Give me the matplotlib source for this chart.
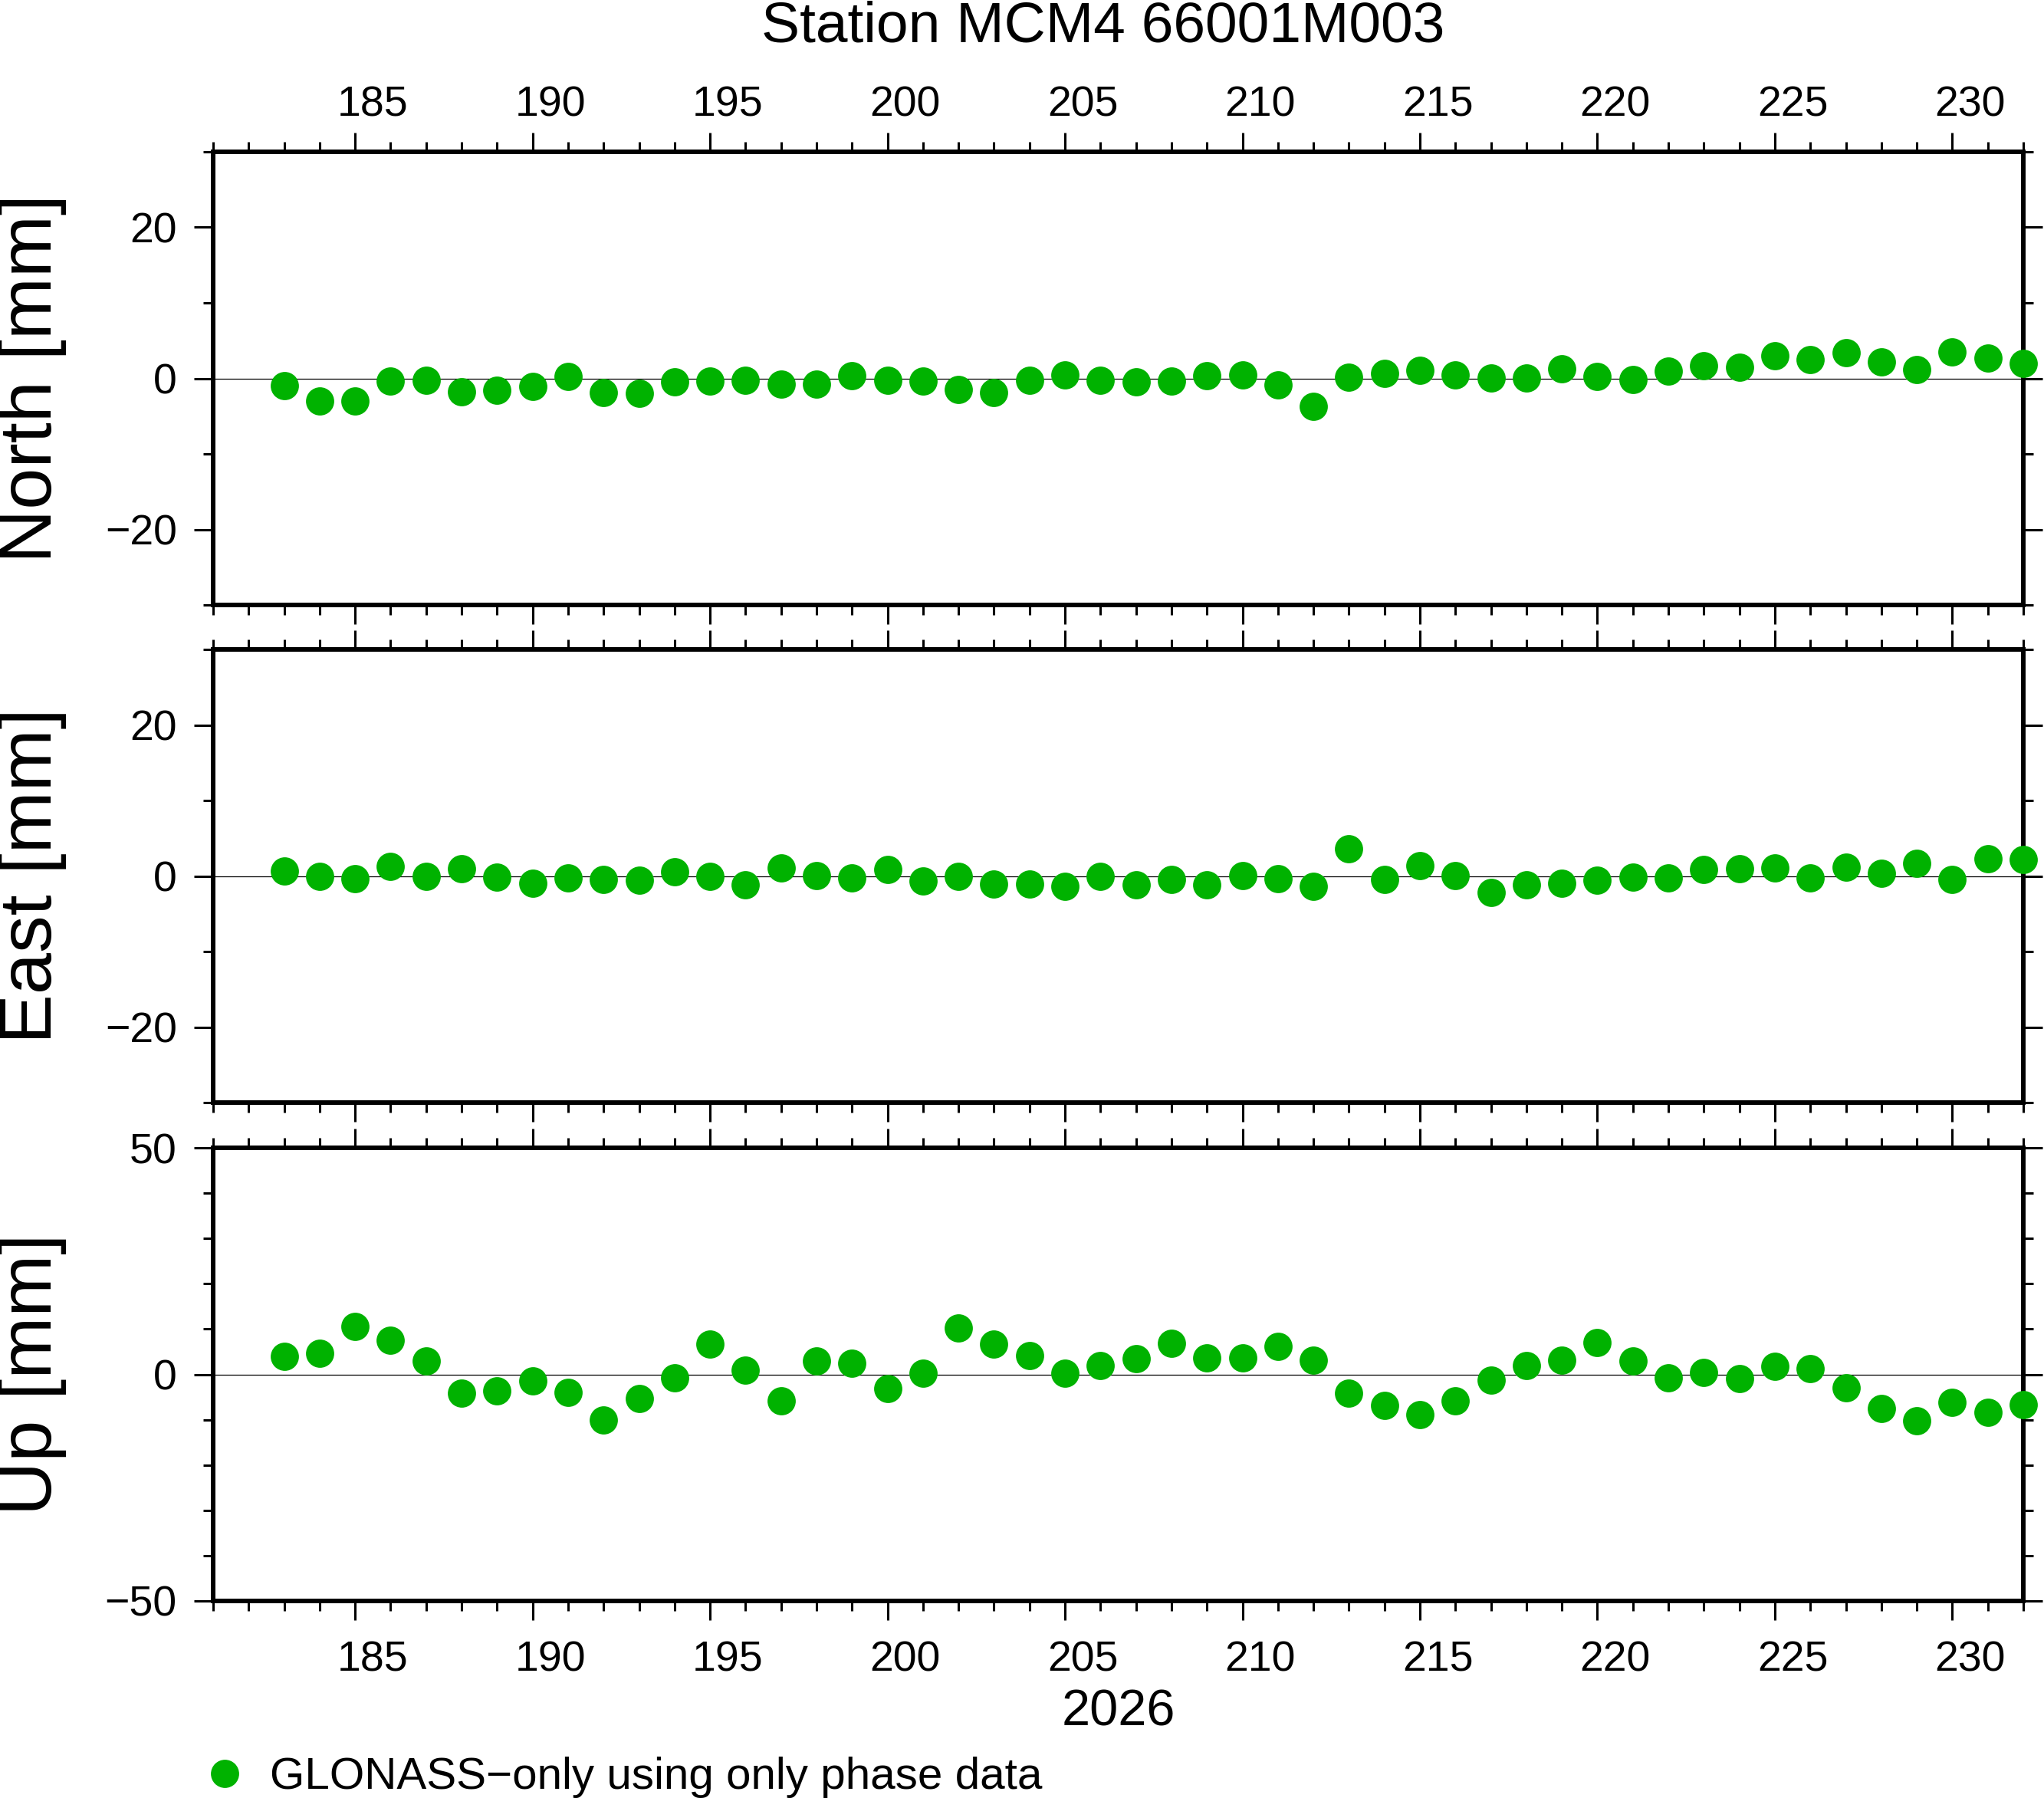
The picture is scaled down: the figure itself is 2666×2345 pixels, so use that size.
import matplotlib
matplotlib.use('Agg')
import matplotlib.pyplot as plt
from matplotlib.ticker import MultipleLocator
from matplotlib.lines import Line2D
from matplotlib.transforms import ScaledTranslation

plt.rcParams['font.family'] = ['Liberation Sans', 'DejaVu Sans']

# day of year 2026
days = list(range(183, 233))

north = [-1.0, -2.95, -2.95, -0.4, -0.3, -1.8, -1.6, -1.1, 0.3, -1.9,
         -2.0, -0.5, -0.4, -0.3, -0.8, -0.8, 0.4, -0.3, -0.4, -1.5,
         -1.9, -0.3, 0.5, -0.3, -0.5, -0.4,
         0.4, 0.5, -0.9, -3.75, 0.2, 0.7, 1.05, 0.5, 0.1, 0.1,
         1.3, 0.3, -0.2, 1.0, 1.7, 1.5, 3.0, 2.5, 3.4, 2.2, 1.2, 3.5, 2.7, 2.0]

east = [0.7, -0.1, -0.4, 1.3, 0.0, 1.0, -0.2, -1.0, -0.3, -0.5,
        -0.6, 0.6, -0.1, -1.2, 1.1, 0.1, -0.3, 0.9, -0.7, 0.0,
        -1.1, -1.1, -1.4, 0.0, -1.2, -0.5,
        -1.2, 0.1, -0.4, -1.4, 3.6, -0.5, 1.4, 0.1, -2.2, -1.2,
        -1.0, -0.6, -0.2, -0.3, 0.9, 1.0, 1.1, -0.3, 1.2, 0.4, 1.7, -0.5, 2.3, 2.2]

up = [3.9, 4.6, 10.5, 7.6, 2.9, -4.2, -3.7, -1.4, -3.9, -10.0,
      -5.3, -0.7, 6.6, 0.85, -5.8, 2.9, 2.5, -3.2, 0.2, 10.2,
      6.6, 4.2, 0.3, 2.0, 3.4, 6.8,
      3.7, 3.7, 6.1, 3.05, -4.2, -6.9, -8.8, -5.9, -1.2, 2.0,
      3.2, 7.1, 2.9, -0.7, 0.5, -0.85, 1.7, 1.2, -2.9, -7.6, -10.2, -6.1, -8.3, -6.6]

labels = ['North [mm]', 'East [mm]', 'Up [mm]']
series = [north, east, up]
limits = [30, 30, 50]
majors = [20, 20, 50]
green = '#00b200'
legend_text = 'GLONASS\u2212only using only phase data'

W, H = 2666, 2345
fig = plt.figure(figsize=(W / 100, H / 100), dpi=100)

left = 278 / W
width = (2639 - 278) / W
tops = [198, 847, 1497]
ph = 591

axes = []
for i in range(3):
    ax = fig.add_axes([left, 1 - (tops[i] + ph) / H, width, ph / H])
    ax.axhline(0, color='black', lw=0.9, zorder=1)
    ax.plot(days, series[i], 'o', color=green, ms=26.5, mec='none',
            clip_on=False, zorder=3)
    ax.set_xlim(181, 232)
    ax.set_ylim(-limits[i], limits[i])
    ax.xaxis.set_major_locator(MultipleLocator(5))
    ax.xaxis.set_minor_locator(MultipleLocator(1))
    ax.yaxis.set_major_locator(MultipleLocator(majors[i]))
    ax.yaxis.set_minor_locator(MultipleLocator(10))
    for s in ax.spines.values():
        s.set_linewidth(4.3)
    ax.tick_params(which='both', direction='out', width=2.2,
                   top=True, bottom=True, left=True, right=True,
                   labeltop=(i == 0), labelbottom=(i == 2),
                   labelleft=True, labelright=False, labelsize=40)
    ax.tick_params(which='major', length=18)
    ax.tick_params(which='minor', length=9.5)
    ax.tick_params(axis='x', which='major', pad=7)
    ax.tick_params(axis='y', which='major', pad=16)
    ax.set_ylabel(labels[i], fontsize=70)
    ax.yaxis.set_label_coords(-0.081, 0.5)
    # day labels sit in the middle of the day, half a day right of the tick
    shift_top = ScaledTranslation(0.231, 0, fig.dpi_scale_trans)
    shift_bot = ScaledTranslation(0.231, -0.17, fig.dpi_scale_trans)
    for t in ax.xaxis.get_major_ticks():
        t.label1.set_transform(t.label1.get_transform() + shift_bot)
        t.label2.set_transform(t.label2.get_transform() + shift_top)
    axes.append(ax)

axes[2].set_xlabel('2026', fontsize=48, labelpad=8)

fig.text(0.5395, 0.985, 'Station MCM4 66001M003', fontsize=54,
         ha='center', va='center')

handle = Line2D([], [], marker='o', ls='none', color=green, ms=26.5, mec='none')
fig.legend([handle], [legend_text], loc='center left',
           bbox_to_anchor=(264 / W, 1 - 2318 / H), frameon=False,
           fontsize=42, handlelength=1.0, handletextpad=0.5,
           borderpad=0, borderaxespad=0, numpoints=1)

fig.savefig('out.png', dpi=100)
